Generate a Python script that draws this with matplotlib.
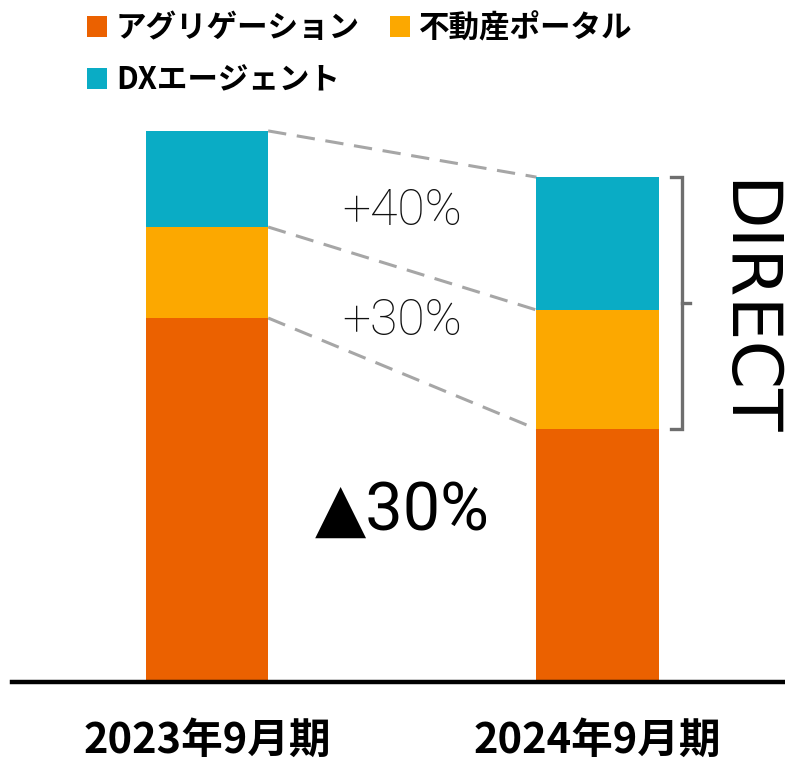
import numpy as np
import matplotlib
matplotlib.use('Agg')
import matplotlib.pyplot as plt

plt.rcParams['font.family'] = ['Noto Sans CJK JP', 'DejaVu Sans']

# data
periods = ['2023年9月期', '2024年9月期']
series = ['アグリゲーション', '不動産ポータル', 'DXエージェント']
aggregation = [100.0, 69.5]
portal = [25.0, 32.7]
dx_agent = [26.4, 36.5]
growth_labels = ['+30%', '+40%']
drop_label = '▲30%'
bracket_label = 'DIRECT'

colors = ['#EB6100', '#FCA800', '#0AACC5']

fig = plt.figure(figsize=(7.85, 7.66), dpi=100)
ax = fig.add_axes([12/785, 1 - 682/766, 1 - 12/785, 682/766])

x = np.arange(len(periods))
w = 0.313
vals = [aggregation, portal, dx_agent]
bottom = np.zeros(len(periods))
bars = []
for v, c, name in zip(vals, colors, series):
    b = ax.bar(x, v, w, bottom=bottom, color=c, label=name, zorder=2)
    bars.append(b)
    bottom = bottom + np.array(v)

# dashed connectors between the stack boundaries
cum = np.cumsum(np.array(vals), axis=0)
for level in cum:
    ax.plot([x[0] + w/2, x[1] - w/2], [level[0], level[1]],
            ls=(0, (6, 3.5)), color='#A6A6A6', lw=2.2, zorder=1)

# growth labels between the lines
xm = (x[0] + x[1]) / 2
for i, lab in enumerate(growth_labels):
    lo = cum[i]
    hi = cum[i + 1]
    ym = (lo.mean() + hi.mean()) / 2
    ax.text(xm, ym, lab, ha='center', va='center', fontsize=36,
            family=['Roboto', 'DejaVu Sans'], fontweight='light', color='#111111')

ax.text(xm, aggregation[1] / 2 + 12, drop_label, ha='center', va='center',
        fontsize=48, family=['Roboto', 'DejaVu Sans'])

# bracket for DIRECT
bx = x[1] + w/2 + 0.06
y0 = aggregation[1]
y1 = cum[-1][1]
tk = 0.028
ax.plot([bx - tk, bx, bx, bx - tk], [y0, y0, y1, y1], color='#6E6E6E', lw=2.4,
        solid_joinstyle='miter', zorder=3)
ax.plot([bx, bx + 0.02], [(y0 + y1) / 2, (y0 + y1) / 2], color='#6E6E6E', lw=2.4)
ax.text(bx + 0.16, (y0 + y1) / 2 - 1.5, bracket_label, rotation=-90, ha='center',
        va='center', fontsize=50, family=['DejaVu Sans'])

ax.set_xlim(-0.4994, 1.480)
ax.set_ylim(0, 682/3.64)
for s in ['top', 'right', 'left']:
    ax.spines[s].set_visible(False)
ax.spines['bottom'].set_linewidth(3.2)
ax.spines['bottom'].set_zorder(5)
ax.set_yticks([])
ax.set_xticks(x)
ax.set_xticklabels(periods, fontsize=30, fontweight='bold')
ax.tick_params(axis='x', length=0, pad=27)

# legend: reorder so first row has aggregation + portal
handles = [bars[0], bars[2], bars[1]]
labels = [series[0], series[2], series[1]]
leg = fig.legend(handles, labels, ncol=2, loc='upper left',
                 bbox_to_anchor=(0.095, 1.0), frameon=False,
                 prop={'size': 22, 'weight': 'bold'},
                 handlelength=0.65, handleheight=0.65, handletextpad=0.3,
                 columnspacing=1.0, labelspacing=0.65, borderaxespad=0)

fig.savefig('out.png', dpi=100)
